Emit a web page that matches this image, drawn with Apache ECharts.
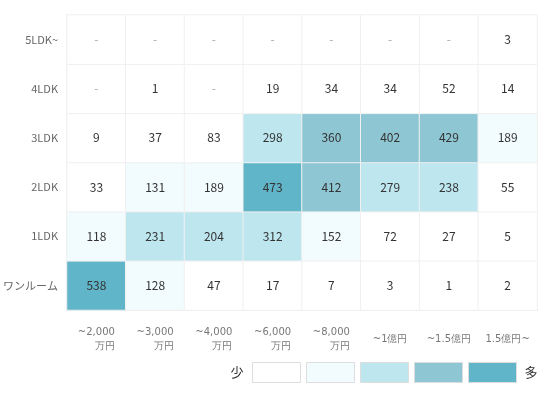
<!DOCTYPE html>
<html><head><meta charset="utf-8">
<script src="https://cdn.jsdelivr.net/npm/echarts@6/dist/echarts.min.js"></script>
<style>html,body{margin:0;padding:0;background:#fff}#c{width:555px;height:394px}</style>
</head><body><div id="c"></div>
<script>
const priceCategories = ['~2,000\n万円','~3,000\n万円','~4,000\n万円','~6,000\n万円','~8,000\n万円','~1億円','~1.5億円','1.5億円~'];
const layoutCategories = ['ワンルーム','1LDK','2LDK','3LDK','4LDK','5LDK~'];
// rows bottom to top; null = '-'
const rowOneRoom = [538,128,47,17,7,3,1,2];
const row1LDK   = [118,231,204,312,152,72,27,5];
const row2LDK   = [33,131,189,473,412,279,238,55];
const row3LDK   = [9,37,83,298,360,402,429,189];
const row4LDK   = [null,1,null,19,34,34,52,14];
const row5LDK   = [null,null,null,null,null,null,null,3];
const rows = [rowOneRoom,row1LDK,row2LDK,row3LDK,row4LDK,row5LDK];
const pieceBounds = [0,100,200,350,450];
const pieceColors = ['#ffffff','#f2fbfd','#bde6ef','#8ec6d3','#60b5c9'];
const legendTexts = ['少','多'];

const data = [];
rows.forEach((row, y) => row.forEach((v, x) => {
  if (v === null) data.push({value:[x,y,0], label:{formatter:'-', color:'#aaa'}});
  else data.push({value:[x,y,v]});
}));

const pieces = pieceBounds.map((b,i)=> i<pieceBounds.length-1 ? {gte:b, lt:pieceBounds[i+1], color:pieceColors[i]} : {gte:b, color:pieceColors[i]});

const chart = echarts.init(document.getElementById('c'));
const legendLeft = 252, legendTop = 362, iw = 49, ih = 21, gap = 5;
const graphics = pieceColors.map((c,i)=>({type:'rect',shape:{x:legendLeft+i*(iw+gap)+0.5,y:legendTop+0.5,width:iw-1,height:ih-1},
    style:{fill:c,stroke:'#dddddd',lineWidth:1},silent:true}));
graphics.push({type:'text',x:237,y:legendTop+ih/2,style:{text:legendTexts[0],align:'center',verticalAlign:'middle',font:'13px "Noto Sans CJK JP"',fill:'#333'}});
graphics.push({type:'text',x:531,y:legendTop+ih/2,style:{text:legendTexts[1],align:'center',verticalAlign:'middle',font:'13px "Noto Sans CJK JP"',fill:'#333'}});

chart.setOption({
  animation:false,
  textStyle:{fontFamily:'Noto Sans CJK JP'},
  grid:{left:67,right:18,top:15,bottom:84},
  xAxis:{type:'category',data:priceCategories,
    axisLine:{show:true,lineStyle:{color:'#eeeeee',width:2}},
    axisTick:{show:false},
    axisLabel:{margin:29,interval:0,verticalAlign:'middle',fontFamily:'DejaVu Sans',fontSize:10,color:'#777',lineHeight:14,
      formatter:function(v){return v.split('\n').map(s=>'{r|'+s+'}').join('\n');},
      rich:{r:{align:'right',fontFamily:'DejaVu Sans',fontSize:10,color:'#777',lineHeight:14}}}
  },
  yAxis:{type:'category',data:layoutCategories,
    axisLine:{show:true,lineStyle:{color:'#eeeeee',width:2}},
    axisTick:{show:false},
    axisLabel:{margin:9,fontSize:11,color:'#666'}
  },
  visualMap:{type:'piecewise',show:false,pieces:pieces,dimension:2},
  graphic: graphics,
  series:[{type:'heatmap',data:data,
    itemStyle:{borderColor:'#f0f0f0',borderWidth:1},
    label:{show:true,fontSize:12,color:'#333'},
    emphasis:{disabled:true}
  }]
});
</script></body></html>
